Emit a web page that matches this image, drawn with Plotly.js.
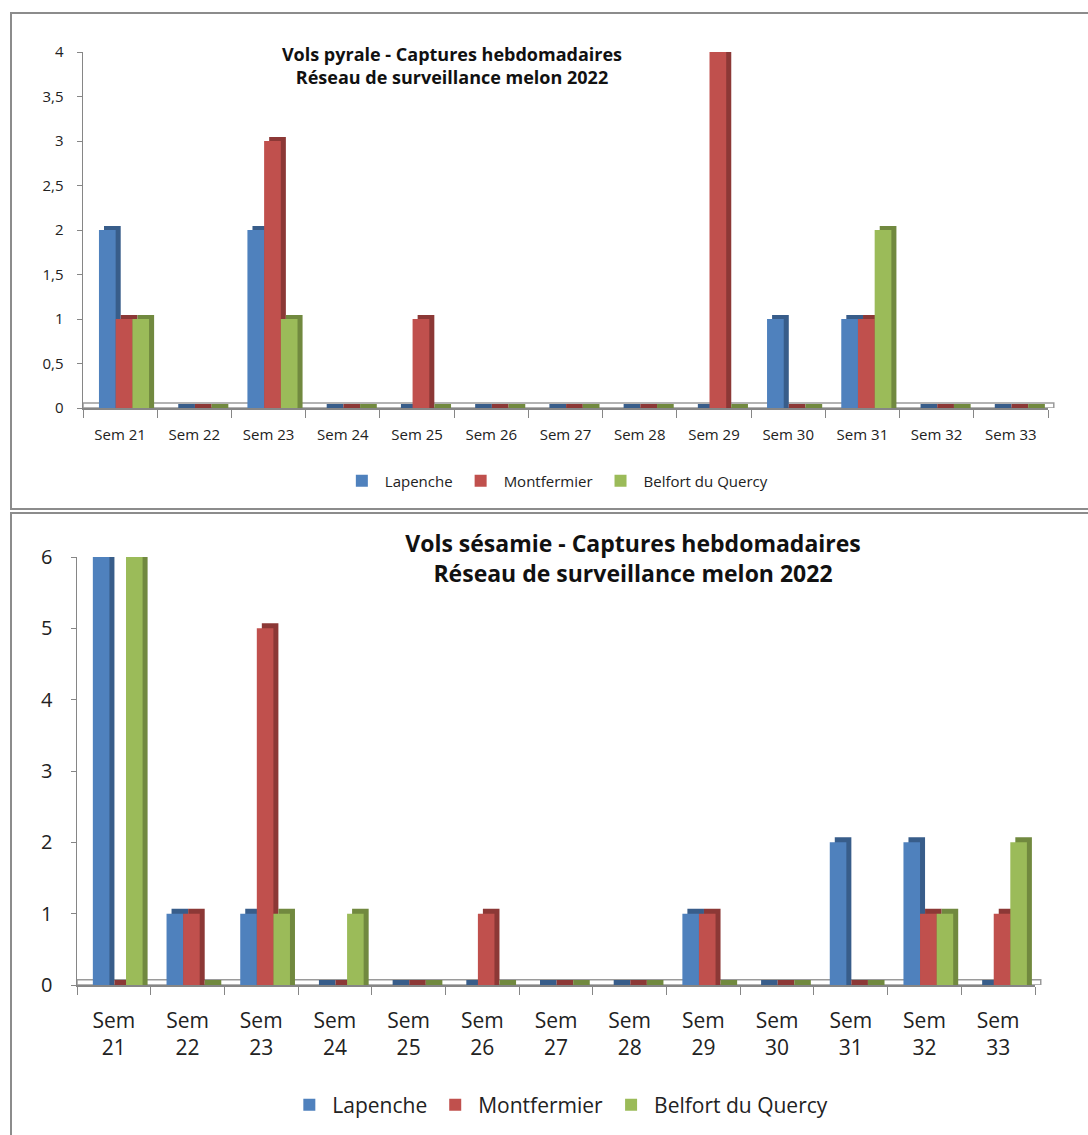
<!DOCTYPE html>
<html><head><meta charset="utf-8">
<script src="https://cdn.plot.ly/plotly-3.0.1.min.js"></script>
<style>
html,body{margin:0;padding:0;background:#fff;width:1088px;height:1135px;overflow:hidden;}
#c1{position:absolute;left:10px;top:12px;width:1078px;height:498px;border:2px solid #8c8c8c;border-right:none;box-sizing:border-box;}
#c2{position:absolute;left:10px;top:512px;width:1078px;height:623px;border-top:2px solid #8c8c8c;border-left:2px solid #8c8c8c;box-sizing:border-box;}
</style></head><body>
<div id="c1"></div><div id="c2"></div>
<script>
const weeks = ["Sem 21","Sem 22","Sem 23","Sem 24","Sem 25","Sem 26","Sem 27","Sem 28","Sem 29","Sem 30","Sem 31","Sem 32","Sem 33"];
const seriesNames = ["Lapenche","Montfermier","Belfort du Quercy"];
// Vols pyrale
const pyraleLapenche    = [2,0,2,0,0,0,0,0,0,1,1,0,0];
const pyraleMontfermier = [1,0,3,0,1,0,0,0,4,0,1,0,0];
const pyraleBelfort     = [1,0,1,0,0,0,0,0,0,0,2,0,0];
// Vols sésamie
const sesamieLapenche    = [6,1,1,0,0,0,0,0,1,0,2,2,0];
const sesamieMontfermier = [0,1,5,0,0,1,0,0,1,0,0,1,1];
const sesamieBelfort     = [6,0,1,1,0,0,0,0,0,0,0,1,2];

const front = ["#4F81BD","#C0504D","#9BBB59"];
const side  = ["#385D8A","#8C3836","#71893F"];
const offsets = [-0.285,-0.06,0.165];
const bw = 0.225;
const FONT = "Open Sans, Liberation Sans, sans-serif";

function buildTraces(series, depth, dx){
  const tr = [];
  series.forEach((vals,i)=>{
    tr.push({type:'bar',x:weeks,y:vals.map(v=>v+depth),base:0,offset:offsets[i]+dx,width:bw,
      marker:{color:side[i],line:{width:0}},showlegend:false,hoverinfo:'skip',cliponaxis:false});
  });
  series.forEach((vals,i)=>{
    tr.push({type:'bar',x:weeks,y:vals,name:seriesNames[i],offset:offsets[i],width:bw,
      marker:{color:front[i],line:{width:0}},hoverinfo:'skip',cliponaxis:false});
  });
  return tr;
}

// Top chart
const layout1 = {
  width:1076,height:494,paper_bgcolor:'rgba(0,0,0,0)',plot_bgcolor:'rgba(0,0,0,0)',
  margin:{l:71,r:40,t:38,b:100},
  separators:', ',
  barmode:'overlay',
  font:{family:FONT,color:'#222'},
  title:{text:'<b>Vols pyrale - Captures hebdomadaires<br>Réseau de surveillance melon 2022</b>',
    x:440/1076,xanchor:'center',xref:'container',y:1-47/494,yanchor:'middle',yref:'container',
    font:{size:18,family:FONT,color:'#111'}},
  xaxis:{type:'category',tickson:'boundaries',ticks:'outside',ticklen:8,tickcolor:'#868686',
    showline:true,linecolor:'#868686',linewidth:1.5,showgrid:false,tickfont:{size:15},ticklabelstandoff:12,fixedrange:true},
  yaxis:{range:[0,4],dtick:0.5,tickformat:'.1~f',ticks:'outside',ticklen:5,tickcolor:'#868686',
    showline:true,linecolor:'#868686',linewidth:1.5,showgrid:false,zeroline:false,tickfont:{size:15},ticklabelstandoff:10},
  legend:{orientation:'h',x:0.49,xanchor:'center',xref:'paper',y:1-467/494,yanchor:'middle',yref:'container',font:{size:15},traceorder:'normal',itemwidth:36},
  shapes:[{type:'rect',xref:'paper',yref:'y',x0:0,x1:1.006,y0:0,y1:0.055,line:{color:'#9a9a9a',width:1.5},fillcolor:'rgba(255,255,255,0)',layer:'below'}]
};
Plotly.newPlot('c1',buildTraces([pyraleLapenche,pyraleMontfermier,pyraleBelfort],0.045,0.068),layout1,{staticPlot:true});

// Bottom chart
const layout2 = {
  width:1076,height:621,paper_bgcolor:'rgba(0,0,0,0)',plot_bgcolor:'rgba(0,0,0,0)',
  margin:{l:65,r:53,t:43,b:150},
  separators:', ',
  barmode:'overlay',
  font:{family:FONT,color:'#222'},
  title:{text:'<b>Vols sésamie - Captures hebdomadaires<br>Réseau de surveillance melon 2022</b>',
    x:621/1076,xanchor:'center',xref:'container',y:1-38/621,yanchor:'middle',yref:'container',
    font:{size:23,family:FONT,color:'#111'}},
  xaxis:{type:'category',tickson:'boundaries',ticks:'outside',ticklen:8,tickcolor:'#868686',
    showline:true,linecolor:'#868686',linewidth:1.5,showgrid:false,tickfont:{size:21},ticklabelstandoff:16,
    tickvals:weeks,ticktext:weeks.map(w=>w.replace(' ','<br>')),fixedrange:true},
  yaxis:{range:[0,6],dtick:1,ticks:'outside',ticklen:5,tickcolor:'#868686',
    showline:true,linecolor:'#868686',linewidth:1.5,showgrid:false,zeroline:false,tickfont:{size:20},ticklabelstandoff:14},
  legend:{orientation:'h',x:0.504,xanchor:'center',xref:'paper',y:1-591/621,yanchor:'middle',yref:'container',font:{size:21},traceorder:'normal',itemwidth:36},
  shapes:[{type:'rect',xref:'paper',yref:'y',x0:0,x1:1.006,y0:0,y1:0.075,line:{color:'#9a9a9a',width:1.5},fillcolor:'rgba(255,255,255,0)',layer:'below'}]
};
Plotly.newPlot('c2',buildTraces([sesamieLapenche,sesamieMontfermier,sesamieBelfort],0.07,0.068),layout2,{staticPlot:true});
</script>
</body></html>
